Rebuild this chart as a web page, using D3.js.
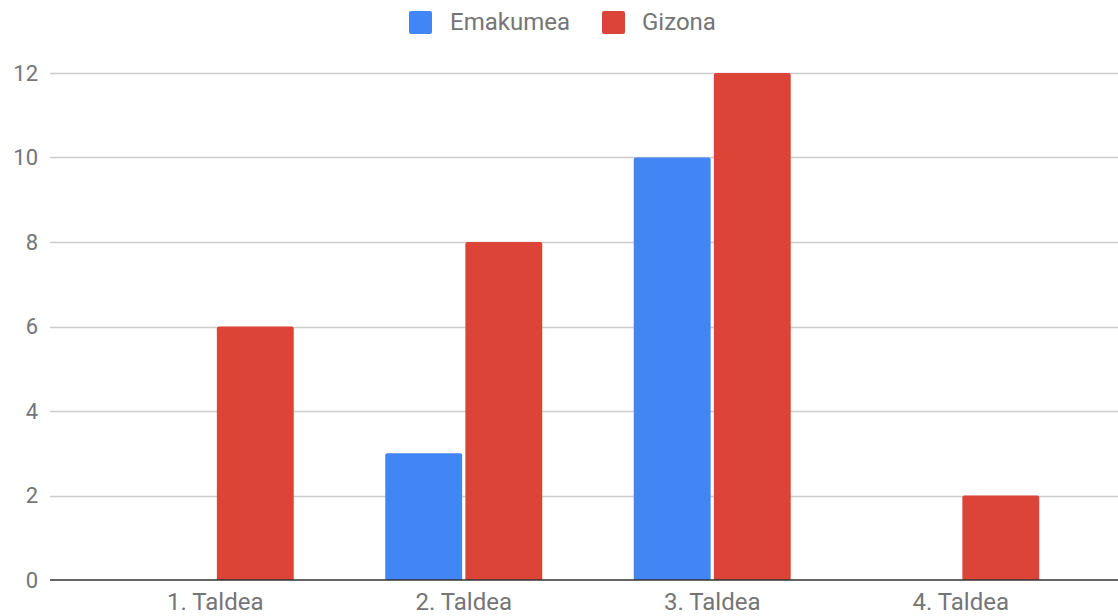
<!DOCTYPE html>
<html><head><meta charset="utf-8">
<script src="https://cdn.jsdelivr.net/npm/d3@7"></script>
<style>body{margin:0;background:#fff}svg{display:block}text{font-family:Roboto,sans-serif}</style>
</head><body><svg id="c" width="1118" height="616"></svg>
<script>
const categories = ["1. Taldea","2. Taldea","3. Taldea","4. Taldea"];
const seriesNames = ["Emakumea","Gizona"];
const emakumea = [0,3,10,0];
const gizona = [6,8,12,2];
const yTicks = [0,2,4,6,8,10,12];
const colors = ["#4285F4","#DB4437"];

const svg = d3.select("#c");
const x = d3.scaleBand().domain(categories).range([91,1085]).paddingInner(0).paddingOuter(0);
const y = d3.scaleLinear().domain([0,12]).range([580,73]);
const inner = d3.scaleBand().domain(seriesNames).range([x.bandwidth()/2-78.5, x.bandwidth()/2+78.5]).paddingInner(0.04);

// gridlines
svg.append("g").selectAll("line").data(yTicks.filter(d=>d!==0)).join("line")
  .attr("x1",50).attr("x2",1118).attr("y1",d=>Math.round(y(d))+0.5).attr("y2",d=>Math.round(y(d))+0.5)
  .attr("stroke","#cccccc").attr("stroke-width",1.5);

// y labels
svg.append("g").selectAll("text").data(yTicks).join("text")
  .attr("x",38).attr("y",d=>y(d)).attr("dy","0.35em").attr("text-anchor","end")
  .attr("fill","#757575").style("font-size","22px").text(d=>d);

// bars
const data = [emakumea, gizona];
const groups = svg.append("g").selectAll("g").data(categories).join("g")
  .attr("transform",d=>`translate(${x(d)},0)`);
groups.selectAll("path").data((c,i)=>seriesNames.map((s,j)=>({s,v:data[j][i],j}))).join("path")
  .attr("fill",d=>colors[d.j])
  .attr("d",d=>{
    if(d.v<=0) return "";
    const x0=inner(d.s), w=inner.bandwidth(), y0=y(d.v), y1=y(0), r=2;
    return `M${x0},${y1}V${y0+r}Q${x0},${y0} ${x0+r},${y0}H${x0+w-r}Q${x0+w},${y0} ${x0+w},${y0+r}V${y1}Z`;
  });

// baseline
svg.append("line").attr("x1",50).attr("x2",1118).attr("y1",y(0)).attr("y2",y(0))
  .attr("stroke","#333").attr("stroke-width",1.5);

// x labels
svg.append("g").selectAll("text").data(categories).join("text")
  .attr("x",d=>x(d)+x.bandwidth()/2).attr("y",610).attr("text-anchor","middle")
  .attr("fill","#757575").style("font-size","24px").text(d=>d);

// legend
const leg = svg.append("g");
const legPos = [{sx:409,tx:450},{sx:602,tx:642}];
seriesNames.forEach((s,i)=>{
  leg.append("rect").attr("x",legPos[i].sx).attr("y",11).attr("width",23).attr("height",23).attr("rx",2)
    .attr("fill",colors[i]);
  leg.append("text").attr("x",legPos[i].tx).attr("y",22).attr("dy","0.35em")
    .attr("fill","#757575").style("font-size","24px").text(s);
});
</script></body></html>
